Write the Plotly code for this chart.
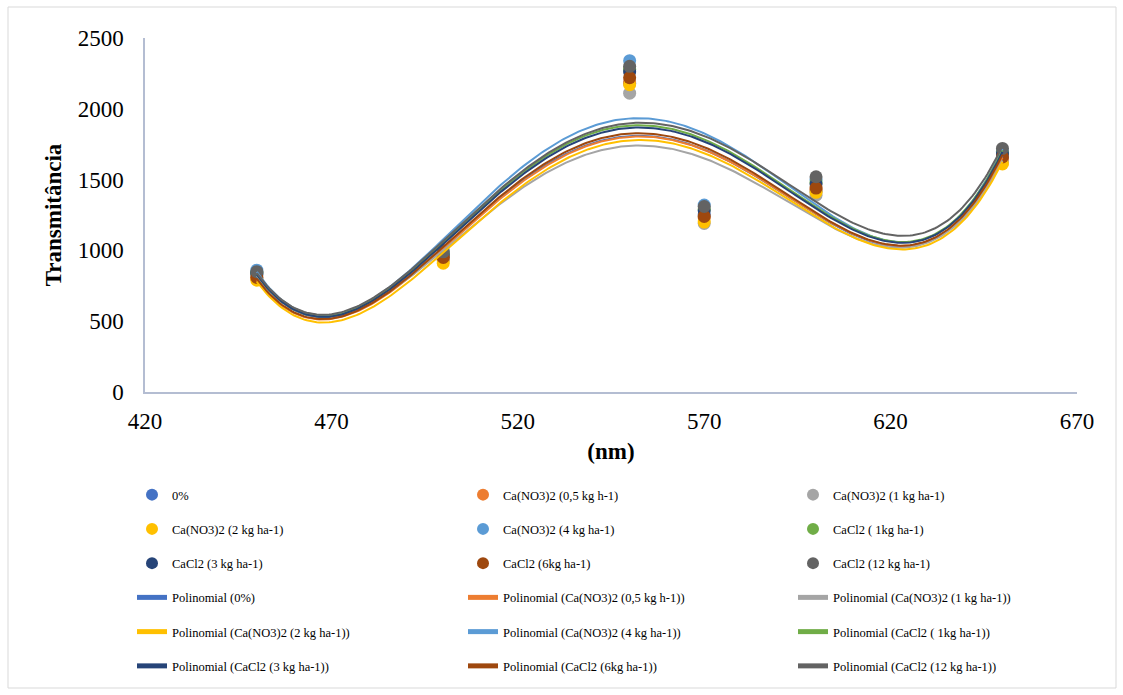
import numpy as np
import plotly.graph_objects as go

wavelength = [450, 500, 550, 570, 600, 650]

series_names = [
    "0%",
    "Ca(NO3)2 (0,5 kg h-1)",
    "Ca(NO3)2 (1 kg ha-1)",
    "Ca(NO3)2 (2 kg ha-1)",
    "Ca(NO3)2 (4 kg ha-1)",
    "CaCl2 ( 1kg ha-1)",
    "CaCl2 (3 kg ha-1)",
    "CaCl2 (6kg ha-1)",
    "CaCl2 (12 kg ha-1)",
]

v_0 = [830, 950, 2180, 1250, 1420, 1650]
v_no3_05 = [800, 940, 2190, 1230, 1430, 1640]
v_no3_1 = [830, 930, 2110, 1190, 1390, 1620]
v_no3_2 = [790, 910, 2170, 1200, 1410, 1610]
v_no3_4 = [860, 1000, 2340, 1320, 1500, 1700]
v_cl_1 = [840, 980, 2280, 1290, 1480, 1690]
v_cl_3 = [840, 970, 2260, 1280, 1470, 1680]
v_cl_6 = [810, 950, 2220, 1240, 1440, 1660]
v_cl_12 = [850, 990, 2300, 1310, 1520, 1720]

series_values = [v_0, v_no3_05, v_no3_1, v_no3_2, v_no3_4, v_cl_1, v_cl_3, v_cl_6, v_cl_12]

colors = ["#4472C4", "#ED7D31", "#A5A5A5", "#FFC000", "#5B9BD5",
          "#70AD47", "#264478", "#9E480E", "#636363"]

FONT = "Liberation Serif, Times New Roman, serif"

fig = go.Figure()
legends = ["legend", "legend2", "legend3"]

for i, (name, vals) in enumerate(zip(series_names, series_values)):
    fig.add_trace(go.Scatter(
        x=wavelength, y=vals, mode="markers", name=name,
        marker=dict(color=colors[i], size=13),
        legend=legends[i % 3], legendgroup=f"m{i}",
    ))

xs = np.linspace(min(wavelength), max(wavelength), 300)
for i, (name, vals) in enumerate(zip(series_names, series_values)):
    coef = np.polyfit(wavelength, vals, 4)
    fig.add_trace(go.Scatter(
        x=xs, y=np.polyval(coef, xs), mode="lines",
        name=f"Polinomial ({name})",
        line=dict(color=colors[i], width=2),
        legend=legends[i % 3], legendgroup=f"l{i}",
    ))

W, H = 1123, 695
L, R, T, B = 145, 46, 38, 303
pw, ph = W - L - R, H - T - B

def px_to_paper(px, py):
    return (px - L) / pw, (H - B - py) / ph

leg_common = dict(
    font=dict(family=FONT, size=12.5, color="#000000"),
    bgcolor="rgba(0,0,0,0)", orientation="v", yanchor="top", xanchor="left",
    tracegroupgap=15, itemsizing="constant", traceorder="grouped",
)
lx = [132, 463, 793]
ly = 480
layout_legends = {}
for k, name in enumerate(legends):
    x, y = px_to_paper(lx[k], ly)
    layout_legends[name] = dict(leg_common, x=x, y=y)

x0, y0 = px_to_paper(8, 688)
x1, y1 = px_to_paper(1116, 7)

axis_line = "#B4BDD2"
fig.update_layout(
    width=W, height=H,
    margin=dict(l=L, r=R, t=T, b=B, autoexpand=False),
    paper_bgcolor="white", plot_bgcolor="white",
    font=dict(family=FONT, color="#000000"),
    showlegend=True,
    xaxis=dict(
        range=[420, 670], dtick=50, tick0=420, showgrid=False, zeroline=False,
        showline=True, linecolor=axis_line, linewidth=1.5,
        ticks="outside", ticklen=8, tickcolor="rgba(0,0,0,0)",
        tickfont=dict(family=FONT, size=23, color="#000000"),
        title=dict(text="<b>(nm)</b>", font=dict(family=FONT, size=23, color="#000000"), standoff=10),
    ),
    yaxis=dict(
        range=[0, 2500], dtick=500, showgrid=False, zeroline=False,
        showline=True, linecolor=axis_line, linewidth=1.5,
        ticks="outside", ticklen=15, tickcolor="rgba(0,0,0,0)",
        tickfont=dict(family=FONT, size=23, color="#000000"),
        title=dict(text="<b>Transmitância</b>", font=dict(family=FONT, size=23, color="#000000"), standoff=10),
    ),
    shapes=[dict(type="rect", xref="paper", yref="paper", x0=x0, y0=y0, x1=x1, y1=y1,
                 line=dict(color="#D9D9D9", width=1), layer="below")],
    **layout_legends,
)

fig.write_html("out.html", config={"displayModeBar": False},
               post_script="document.body.style.margin='0px';")
